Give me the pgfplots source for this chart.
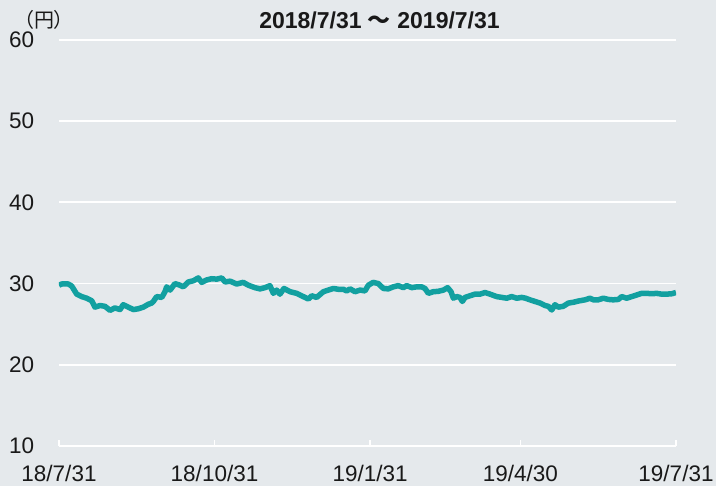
\documentclass[border=0pt]{standalone}
\usepackage{fontspec}
\setmainfont{Liberation Sans}
\newfontfamily\cjk{Noto Sans CJK JP}
\usepackage{pgfplots}
\pgfplotsset{compat=1.18}
\definecolor{bg}{RGB}{229,233,236}
\definecolor{teal1}{RGB}{18,160,160}
\definecolor{txt}{RGB}{25,25,25}
\newcommand{\lbl}{\fontsize{22.5pt}{22.5pt}\selectfont}
\begin{document}
\begin{tikzpicture}
  \fill[bg] (-59pt,-40pt) rectangle (657pt,446pt);
  \begin{axis}[
      scale only axis, width=617pt, height=406pt,
      xmin=0, xmax=365, ymin=10, ymax=60,
      xtick={0,92,184,273,365},
      xticklabels={18/7/31, 18/10/31, 19/1/31, 19/4/30, 19/7/31},
      ytick={10,20,...,60},
      axis line style={draw=none},
      ymajorgrids, major grid style={white, line width=1.8pt},
      tick align=inside, xtick pos=left, major tick length=6pt,
      xtick style={white, line width=1.2pt},
      ytick style={draw=none},
      /pgf/number format/assume math mode=true,
      ticklabel style={font=\lbl, text=txt, inner sep=0pt},
      yticklabel style={anchor=west, xshift=-50pt},
      xticklabel style={anchor=north, yshift=-19pt},
    ]
    \addplot[teal1, line width=5.5pt, line join=round] coordinates {
      (0,29.8) (1.6,29.95) (5.5,29.95) (7.5,29.7) (10.5,28.7) (13.4,28.4) (16.4,28.2) (19.3,27.9)
      (21.3,27.1) (24.3,27.3) (27.2,27.2) (30.2,26.7) (33.1,27.0) (36.1,26.8) (38.0,27.4) (41.0,27.1)
      (44.0,26.8) (46.9,26.9) (49.9,27.1) (52.8,27.45) (54.8,27.6) (55.8,27.8) (57.8,28.4) (60.8,28.3)
      (62.7,29.0) (63.7,29.6) (65.7,29.2) (68.6,30.0) (71.6,29.8) (73.5,29.6) (76.5,30.2) (79.5,30.35)
      (82.4,30.7) (84.4,30.15) (87.4,30.45) (90.3,30.6) (93.3,30.55) (96.3,30.7) (98.2,30.2) (101.2,30.3)
      (105.1,29.95) (109.0,30.15) (112.0,29.8) (115.9,29.5) (118.9,29.35) (121.9,29.5) (124.8,29.75)
      (126.8,28.8) (128.8,29.2) (130.7,28.7) (133.1,29.4) (136.7,29.0) (140.6,28.8) (144.5,28.4)
      (147.5,28.1) (149.5,28.5) (152.4,28.3) (156.4,29.0) (159.3,29.2) (162.3,29.4) (165.2,29.3)
      (168.2,29.3) (170.2,29.1) (172.2,29.35) (175.1,29.0) (178.1,29.2) (181.0,29.1) (183.0,29.8)
      (185.9,30.15) (188.9,30.0) (191.9,29.4) (194.8,29.35) (197.8,29.6) (200.7,29.75) (203.7,29.5)
      (205.7,29.75) (208.7,29.5) (211.6,29.6) (214.6,29.6) (216.5,29.4) (218.5,28.8) (221.4,29.0)
      (224.4,29.05) (227.4,29.2) (229.9,29.5) (231.9,29.0) (233.3,28.2) (235.3,28.4) (237.2,28.3)
      (238.6,27.8) (240.2,28.3) (243.1,28.5) (246.1,28.7) (249.1,28.7) (252.0,28.9) (255.0,28.7)
      (258.9,28.4) (261.9,28.3) (264.9,28.2) (267.8,28.4) (270.8,28.2) (273.7,28.3) (276.0,28.2)
      (278.6,28.0) (281.6,27.8) (284.6,27.6) (287.5,27.3) (289.5,27.2) (291.5,26.75) (293.4,27.4)
      (295.4,27.1) (298.3,27.2) (301.3,27.6) (304.3,27.7) (307.2,27.85) (311.2,28.0) (314.1,28.2)
      (316.1,28.0) (319.0,28.0) (322.0,28.2) (325.0,28.05) (327.9,28.0) (330.9,28.05) (332.9,28.4)
      (335.8,28.2) (338.8,28.4) (341.8,28.6) (344.7,28.8) (347.7,28.8) (350.6,28.75) (353.6,28.8)
      (356.5,28.7) (359.5,28.7) (362.5,28.75) (365,28.9)};
  \end{axis}
  \node[font=\bfseries\fontsize{23pt}{23pt}\selectfont, text=txt] at (320.5pt,426pt) {2018/7/31 {\cjk ～} 2019/7/31};
  \node[font=\cjk\fontsize{20pt}{20pt}\selectfont, text=txt] at (-15pt,426pt) {（円）};
\end{tikzpicture}
\end{document}
